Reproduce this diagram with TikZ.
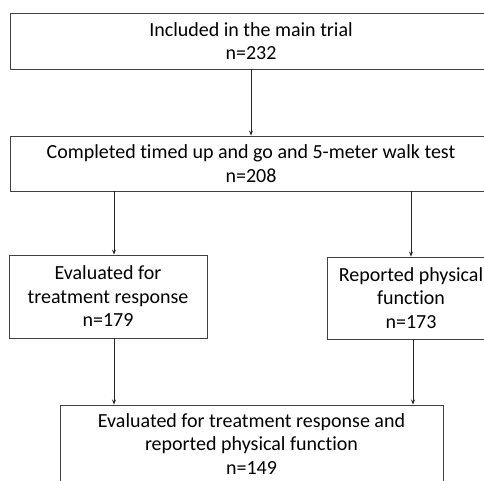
\documentclass[tikz,border=0pt]{standalone}
\usepackage{fontspec}
\setmainfont{Carlito}[Ligatures={NoCommon}]
\usetikzlibrary{arrows.meta}
\begin{document}
\begin{tikzpicture}[x=1pt,y=-1pt,
  box/.style={draw=black!75, line width=0.9pt, align=center, inner sep=0pt,
    font=\fontsize{20}{23.5}\selectfont},
  flow/.style={draw=black!85, line width=0.8pt, -{Stealth[length=5pt,width=4pt]}}]
  \useasboundingbox (0,0) rectangle (484,481);
  \node[box, minimum width=482pt, minimum height=56pt] (incl) at (251,41)
    {Included in the main trial\\n=232};
  \node[box, minimum width=482pt, minimum height=55pt] (tug) at (251,163.5)
    {Completed timed up and go and 5-meter walk test\\n=208};
  \node[box, minimum width=198pt, minimum height=83pt] (resp) at (108,296.5)
    {Evaluated for\\treatment response\\n=179};
  \node[box, minimum width=168pt, minimum height=82pt] (phys) at (411,298)
    {Reported physical\\function\\n=173};
  \node[box, minimum width=383pt, minimum height=78pt] (both) at (251.5,444)
    {Evaluated for treatment response and\\reported physical function\\n=149};
  \draw[flow] (incl.south) -- (tug.north);
  \draw[flow] (tug.south -| 114,0) -- (resp.north -| 114,0);
  \draw[flow] (tug.south -| 411,0) -- (phys.north -| 411,0);
  \draw[flow] (resp.south -| 114,0) -- (both.north -| 114,0);
  \draw[flow] (phys.south -| 413,0) -- (both.north -| 413,0);
\end{tikzpicture}
\end{document}
